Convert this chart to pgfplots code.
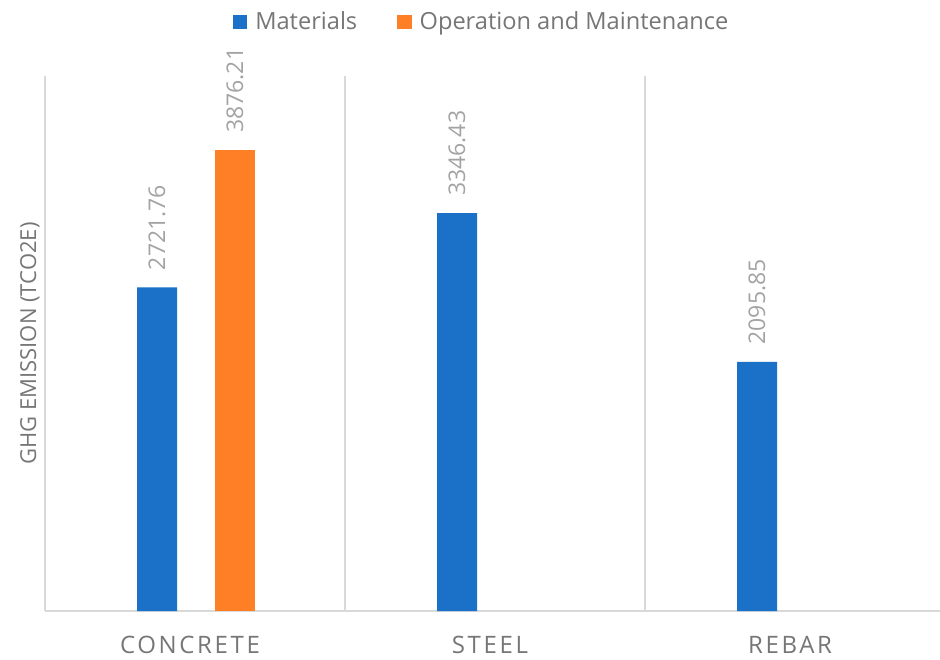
\documentclass[border=0pt]{standalone}
\usepackage{pgfplots}
\pgfplotsset{compat=1.18}
\usepackage{fontspec}
\setmainfont{Open Sans}
\definecolor{cblue}{HTML}{1A71C7}
\definecolor{corange}{HTML}{FF7F27}
\definecolor{gridc}{HTML}{D9D9D9}
\definecolor{txt}{HTML}{767676}
\definecolor{lbl}{HTML}{A3A3A3}
\begin{document}
\begin{tikzpicture}
\begin{axis}[
  name=a,
  scale only axis,
  width=447.5pt, height=267.5pt,
  xmin=-0.5, xmax=2.48333,
  ymin=0, ymax=4500,
  ybar, bar width=20pt,
  clip=false,
  axis x line*=bottom, axis y line*=left,
  axis line style={draw=gridc, line width=0.8pt},
  ytick=\empty,
  xtick={0,1,2},
  xticklabels={CONCRETE,STEEL,REBAR},
  major tick length=0pt,
  minor xtick={0.5,1.5},
  minor x grid style={draw=gridc, line width=0.8pt},
  xminorgrids=true,
  minor tick length=0pt,
  xticklabel style={font=\fontsize{12}{14}\selectfont\addfontfeature{LetterSpace=11}, text=txt, inner sep=0pt, anchor=north, yshift=-12.5pt, xshift=-2.5pt},
  ylabel={GHG EMISSION (TCO2E)},
  ylabel style={at={(axis description cs:-0.0168,0.5)}, anchor=center, font=\fontsize{11}{13}\selectfont, text=txt},
  nodes near coords,
  nodes near coords style={rotate=90, anchor=west, font=\fontsize{11.5}{13}\selectfont, text=lbl, inner sep=0pt},
  every node near coord/.append style={shift={(8.5pt,0pt)}},
  point meta=explicit symbolic,
  legend style={at={(0.489,1.101)}, anchor=center, draw=none, fill=none,
    font=\fontsize{11.8}{13}\selectfont, text=txt, legend columns=2,
    /tikz/every odd column/.append style={column sep=2pt},
    /tikz/every even column/.append style={column sep=18pt}, inner sep=0pt},
  legend cell align=left,
  legend image code/.code={\fill[#1] (0pt,-3.6pt) rectangle (7.2pt,3.6pt);},
]
\addplot[fill=cblue, draw=none, bar shift=-19pt] coordinates {(0,2721.76) [2721.76] (1,3346.43) [3346.43] (2,2095.85) [2095.85]};
\addlegendentry{Materials}
\addplot[fill=corange, draw=none, bar shift=20pt] coordinates {(0,3876.21) [3876.21]};
\addlegendentry{Operation and Maintenance}
\end{axis}
\pgfresetboundingbox
\path[use as bounding box] ([shift={(-22.5pt,-24pt)}]a.south west) rectangle ([shift={(0pt,38pt)}]a.north east);
\end{tikzpicture}
\end{document}
